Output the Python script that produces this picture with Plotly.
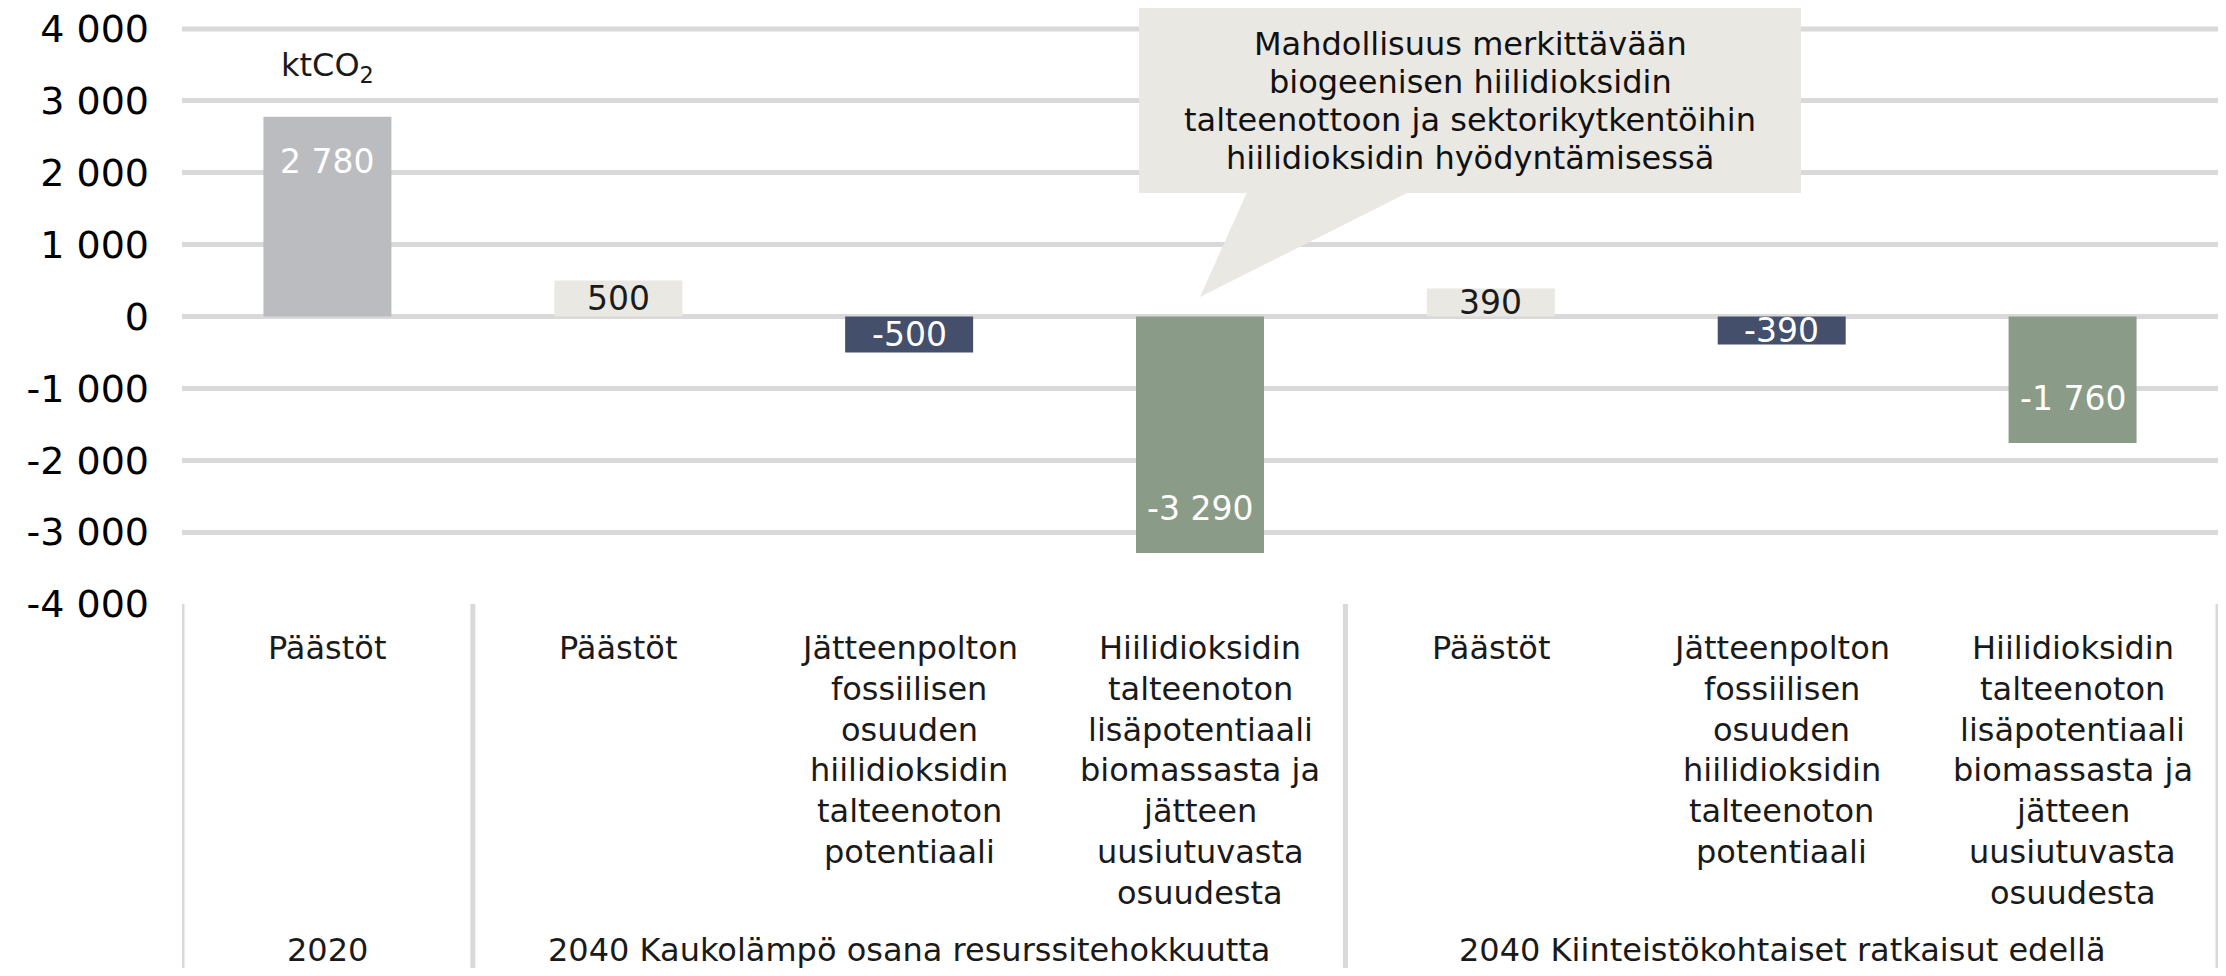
import plotly.graph_objects as go

# ---------------- data ----------------
categories = [
    "Päästöt",
    "Päästöt",
    "Jätteenpolton<br>fossiilisen<br>osuuden<br>hiilidioksidin<br>talteenoton<br>potentiaali",
    "Hiilidioksidin<br>talteenoton<br>lisäpotentiaali<br>biomassasta ja<br>jätteen<br>uusiutuvasta<br>osuudesta",
    "Päästöt",
    "Jätteenpolton<br>fossiilisen<br>osuuden<br>hiilidioksidin<br>talteenoton<br>potentiaali",
    "Hiilidioksidin<br>talteenoton<br>lisäpotentiaali<br>biomassasta ja<br>jätteen<br>uusiutuvasta<br>osuudesta",
]
values = [2780, 500, -500, -3290, 390, -390, -1760]
groups = ["2020", "2040 Kaukolämpö osana resurssitehokkuutta", "2040 Kiinteistökohtaiset ratkaisut edellä"]
group_sizes = [1, 3, 3]
y_tickvals = [4000, 3000, 2000, 1000, 0, -1000, -2000, -3000, -4000]
y_ticktext = ["4 000", "3 000", "2 000", "1 000", "0", "-1 000", "-2 000", "-3 000", "-4 000"]
unit_label = "ktCO<sub>2</sub>"
callout_lines = ["Mahdollisuus merkittävään", "biogeenisen hiilidioksidin",
                 "talteenottoon ja sektorikytkentöihin", "hiilidioksidin hyödyntämisessä"]

# ---------------- style ----------------
GRAY, BEIGE, NAVY, GREEN = "#bbbcbf", "#e9e8e3", "#434f6b", "#8a9b87"
bar_colors = [GRAY, BEIGE, NAVY, GREEN, BEIGE, NAVY, GREEN]
label_colors = ["white", "#1a1a1a", "white", "white", "#1a1a1a", "white", "white"]
FONT = "Verdana, DejaVu Sans, sans-serif"
GRID = "#d9d9d9"
TXT = "#1a1a1a"

# the page body has an 8px margin; the figure is sized so the page fits the window
OFF = 8
W, H = 2210, 960
ML, MR, MT = 174, 0, 21
PH = 575
MB = H - MT - PH
PW = W - ML - MR
Y_RANGE = [min(y_tickvals) - 0.5, max(y_tickvals) + 0.5]


def px_x(X):
    """screen x -> paper x"""
    return (X - OFF - ML) / PW


def px_y(Y):
    """screen y -> paper y"""
    return (H - MB - (Y - OFF)) / PH


xs = list(range(len(values)))

fig = go.Figure()
fig.add_trace(go.Bar(x=xs, y=values, width=0.44,
                     marker=dict(color=bar_colors, line=dict(width=0)),
                     hoverinfo="skip"))

annotations = []
# data labels
for i, v in enumerate(values):
    txt = f"{v:,}".replace(",", " ")
    if abs(v) >= 1000:
        y, ys = v, (-45 if v > 0 else 44)
    else:
        y, ys = v / 2, 0
    annotations.append(dict(x=xs[i], y=y, xref="x", yref="y", text=txt, showarrow=False,
                            yshift=ys, yanchor="middle", xanchor="center",
                            font=dict(family=FONT, size=33, color=label_colors[i])))
# category labels (one annotation per line for exact spacing)
for i, c in enumerate(categories):
    for k, line in enumerate(c.split("<br>")):
        annotations.append(dict(x=xs[i], y=px_y(648 + 40.8 * k), xref="x", yref="paper",
                                text=line, showarrow=False, yanchor="middle", xanchor="center",
                                font=dict(family=FONT, size=32, color=TXT)))
# group labels
start = 0
for g, n in zip(groups, group_sizes):
    cx = (xs[start] + xs[start + n - 1]) / 2
    annotations.append(dict(x=cx, y=px_y(950), xref="x", yref="paper", text=g,
                            showarrow=False, yanchor="middle", xanchor="center",
                            font=dict(family=FONT, size=32, color=TXT)))
    start += n
# unit label
annotations.append(dict(x=xs[0], y=px_y(67), xref="x", yref="paper", text=unit_label,
                        showarrow=False, yanchor="middle", xanchor="center",
                        font=dict(family=FONT, size=32, color=TXT)))
# callout text
for k, line in enumerate(callout_lines):
    annotations.append(dict(x=px_x(1470), y=px_y(44 + 38 * k), xref="paper", yref="paper",
                            text=line, showarrow=False, yanchor="middle", xanchor="center",
                            font=dict(family=FONT, size=32, color="#111111")))

shapes = []
# top gridline (plotly drops the grid line lying on the range end); paper ref so it is not clipped
top_p = (max(y_tickvals) - Y_RANGE[0]) / (Y_RANGE[1] - Y_RANGE[0])
shapes.append(dict(type="line", xref="paper", yref="paper", x0=0, x1=1,
                   y0=top_p, y1=top_p, line=dict(color=GRID, width=5), layer="below"))
# table vertical lines
start = 0
bounds = [xs[0] - 0.5]
for n in group_sizes:
    start += n
    bounds.append(xs[start - 1] + 0.5)
for b in bounds:
    shapes.append(dict(type="line", xref="x", yref="paper", x0=b, x1=b, y0=0, y1=-0.8,
                       line=dict(color=GRID, width=5)))
# callout box + pointer
shapes.append(dict(type="rect", xref="paper", yref="paper",
                   x0=px_x(1139), x1=px_x(1801), y0=px_y(193), y1=px_y(7),
                   fillcolor=BEIGE, line=dict(width=0), layer="above"))
path = (f"M {px_x(1248)},{px_y(190)} L {px_x(1413)},{px_y(190)} "
        f"L {px_x(1200)},{px_y(297)} Z")
shapes.append(dict(type="path", xref="paper", yref="paper", path=path,
                   fillcolor=BEIGE, line=dict(width=0), layer="above"))

fig.update_layout(
    width=W, height=H,
    margin=dict(l=ML, r=MR, t=MT, b=MB, autoexpand=False),
    paper_bgcolor="white", plot_bgcolor="white",
    showlegend=False,
    annotations=annotations,
    shapes=shapes,
    xaxis=dict(range=[xs[0] - 0.5, xs[-1] + 0.5], showticklabels=False, showgrid=False,
               zeroline=False, showline=False, fixedrange=True, automargin=False),
    yaxis=dict(range=Y_RANGE, tickvals=y_tickvals, ticktext=y_ticktext,
               showgrid=True, gridcolor=GRID, gridwidth=5, zeroline=False, showline=False,
               ticks="", ticklabelstandoff=32, automargin=False, ticklabeloverflow="allow",
               tickfont=dict(family=FONT, size=38, color="#000000"), fixedrange=True),
)

fig.write_html("out.html")
